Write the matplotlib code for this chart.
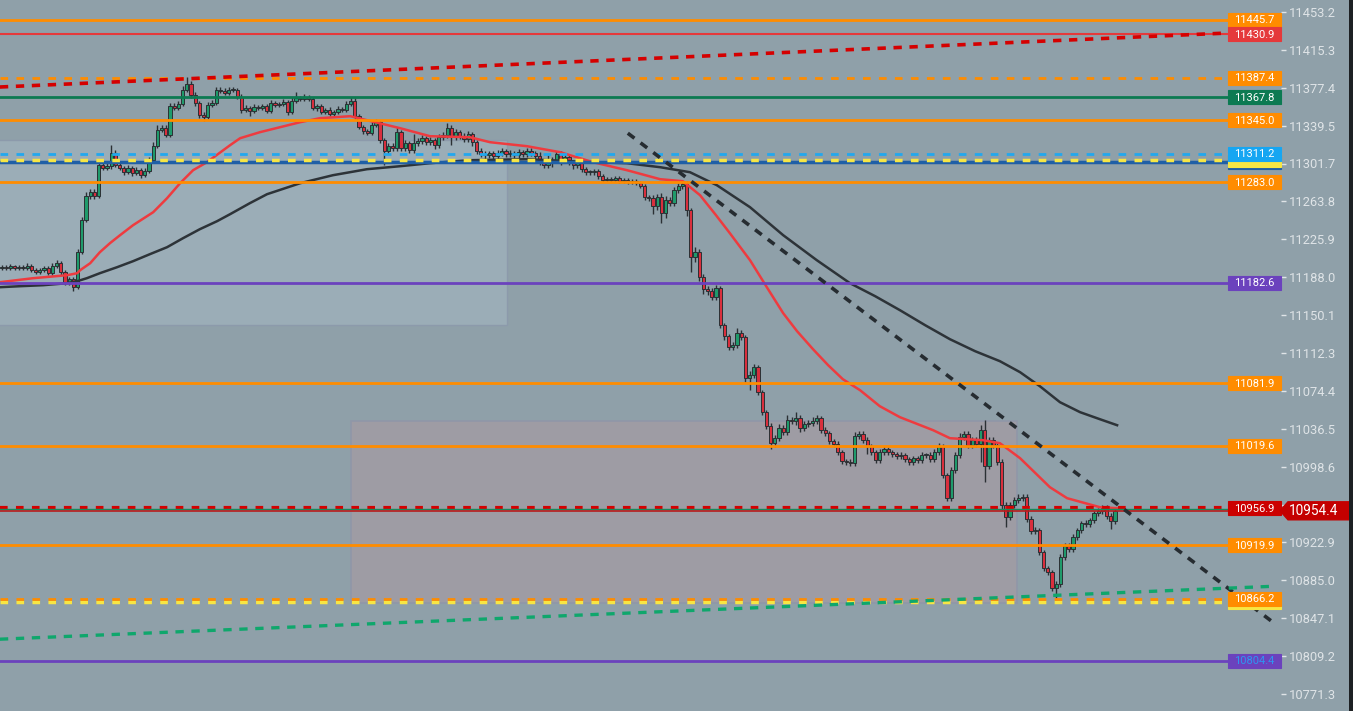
import numpy as np
import matplotlib.pyplot as plt
import matplotlib.transforms as mtransforms
from matplotlib.patches import Rectangle, Polygon

plt.rcParams['font.family'] = ['Roboto', 'DejaVu Sans']
plt.rcParams['lines.scale_dashes'] = False

# candle data (1 bar = one candle, open = previous close)
first_open = 11197
closes = [
    11198, 11197, 11199, 11197, 11198, 11197, 11199, 11195, 11193, 11195,
    11197, 11192, 11199, 11202, 11193, 11182, 11186, 11178, 11213, 11245,
    11269, 11273, 11269, 11300, 11297, 11299, 11312, 11300, 11297, 11293,
    11297, 11292, 11295, 11290, 11294, 11305, 11319, 11335, 11337, 11330,
    11359, 11357, 11361, 11375, 11381, 11370, 11362, 11350, 11348, 11360,
    11362, 11375, 11374, 11372, 11375, 11375, 11368, 11355, 11357, 11354,
    11358, 11357, 11359, 11354, 11362, 11360, 11361, 11363, 11353, 11364,
    11367, 11366, 11368, 11366, 11357, 11359, 11353, 11355, 11351, 11353,
    11356, 11355, 11361, 11364, 11349, 11338, 11334, 11332, 11340, 11343,
    11325, 11314, 11319, 11317, 11333, 11317, 11322, 11315, 11322, 11324,
    11327, 11323, 11325, 11320, 11328, 11330, 11337, 11328, 11333, 11329,
    11326, 11331, 11323, 11314, 11311, 11310, 11312, 11309, 11312, 11314,
    11311, 11312, 11310, 11313, 11311, 11314, 11312, 11309, 11303, 11300,
    11304, 11305, 11311, 11305, 11308, 11303, 11300, 11302, 11296, 11293,
    11293, 11294, 11289, 11285, 11286, 11285, 11287, 11284, 11285, 11283,
    11284, 11282, 11279, 11268, 11267, 11259, 11268, 11252, 11265, 11262,
    11275, 11279, 11281, 11255, 11208, 11213, 11188, 11176, 11174, 11168,
    11177, 11140, 11129, 11118, 11120, 11132, 11128, 11087, 11090, 11098,
    11073, 11053, 11039, 11022, 11027, 11037, 11033, 11045, 11044, 11047,
    11037, 11041, 11042, 11044, 11047, 11035, 11032, 11024, 11021, 11013,
    11004, 11003, 11002, 11029, 11031, 11025, 11019, 11013, 11005, 11013,
    11016, 11013, 11011, 11009, 11010, 11006, 11003, 11007, 11005, 11010,
    11010, 11006, 11013, 11019, 10990, 10967, 10995, 11010, 11028, 11031,
    11020, 11025, 11021, 11035, 10999, 11025, 11020, 11003, 10960, 10948,
    10960, 10965, 10967, 10968, 10946, 10934, 10935, 10913, 10897, 10893,
    10877, 10881, 10908, 10919, 10916, 10928, 10935, 10942, 10941, 10945,
    10952, 10954, 10957, 10949, 10944, 10954.4,
]
upper_wick = [
    2, 2, 2, 1, 2, 2, 3, 2, 2, 2,
    2, 2, 3, 3, 2, 2, 2, 2, 3, 3,
    4, 3, 3, 6, 3, 3, 8, 3, 3, 2,
    3, 2, 3, 2, 3, 3, 4, 5, 3, 3,
    3, 3, 3, 4, 7, 3, 3, 2, 3, 3,
    3, 3, 3, 3, 3, 3, 2, 3, 3, 2,
    3, 2, 2, 2, 3, 2, 2, 3, 2, 4,
    6, 2, 3, 2, 2, 2, 2, 2, 3, 2,
    3, 2, 3, 4, 3, 2, 2, 2, 3, 3,
    2, 2, 3, 3, 5, 2, 3, 2, 9, 3,
    3, 2, 3, 2, 3, 3, 5, 3, 3, 2,
    3, 3, 2, 2, 3, 3, 2, 2, 3, 3,
    2, 3, 2, 3, 2, 3, 3, 2, 4, 3,
    6, 3, 3, 3, 3, 2, 2, 3, 2, 2,
    2, 2, 2, 2, 2, 2, 2, 2, 2, 2,
    2, 2, 2, 2, 2, 3, 3, 4, 4, 3,
    3, 3, 3, 3, 2, 5, 3, 3, 3, 3,
    3, 2, 2, 2, 3, 5, 3, 2, 4, 3,
    2, 2, 2, 3, 3, 4, 3, 5, 3, 6,
    3, 3, 3, 4, 3, 2, 3, 2, 2, 3,
    2, 2, 3, 4, 3, 3, 3, 2, 2, 3,
    3, 2, 2, 2, 3, 2, 2, 2, 2, 3,
    2, 3, 3, 3, 2, 2, 3, 3, 4, 3,
    3, 3, 3, 5, 10, 3, 3, 2, 3, 3,
    3, 3, 4, 3, 3, 3, 3, 2, 2, 2,
    2, 3, 3, 3, 3, 3, 2, 2, 3, 2,
    2, 3, 3, 3, 3, 3,
]
lower_wick = [
    2, 2, 2, 2, 2, 2, 2, 2, 2, 2,
    2, 2, 2, 2, 3, 2, 2, 4, 2, 2,
    2, 3, 3, 2, 2, 2, 3, 2, 2, 3,
    2, 3, 2, 3, 2, 2, 2, 2, 2, 2,
    2, 2, 2, 2, 2, 3, 3, 3, 4, 2,
    2, 2, 2, 2, 2, 2, 2, 3, 2, 5,
    2, 2, 2, 2, 2, 2, 2, 2, 3, 2,
    2, 2, 2, 2, 2, 3, 2, 2, 2, 2,
    2, 2, 2, 2, 3, 2, 3, 2, 2, 2,
    3, 14, 3, 3, 3, 3, 3, 3, 3, 3,
    3, 3, 3, 4, 3, 3, 3, 8, 3, 3,
    3, 3, 4, 3, 3, 4, 3, 3, 3, 3,
    3, 3, 3, 3, 3, 3, 3, 3, 3, 3,
    3, 6, 3, 5, 3, 3, 4, 3, 3, 3,
    3, 3, 3, 2, 2, 2, 2, 2, 2, 2,
    2, 2, 2, 3, 3, 8, 4, 10, 5, 3,
    3, 3, 3, 6, 15, 5, 4, 5, 4, 3,
    3, 3, 4, 3, 3, 3, 3, 4, 12, 3,
    3, 3, 3, 6, 4, 3, 3, 3, 3, 4,
    4, 3, 3, 3, 3, 3, 3, 3, 3, 3,
    3, 3, 3, 3, 3, 3, 8, 3, 3, 3,
    3, 3, 3, 3, 3, 3, 3, 3, 3, 3,
    3, 3, 3, 3, 3, 3, 3, 3, 3, 3,
    3, 3, 3, 18, 16, 3, 3, 3, 5, 10,
    3, 3, 3, 3, 3, 3, 3, 3, 3, 3,
    3, 10, 3, 3, 3, 3, 3, 3, 3, 3,
    3, 3, 3, 3, 8, 3,
]

# moving averages (bar index, price)
ma_fast_x = [-0.5, 7.4, 15.5, 17.9, 18.6, 21, 23.3, 25.7, 28.1, 31.2, 36, 39.3, 42.4, 45.5,
             48.8, 54.3, 56.7, 61.4, 66.2, 71, 75.7, 82.9, 86.9, 94.8, 101.9, 111.4, 116.2,
             125, 132.9, 140.7, 148.8, 156.7, 162.1, 166.2, 170, 173.3, 178.1, 182.1, 186,
             189.3, 193.1, 196.7, 200.2, 204.3, 209, 213.8, 221.7, 225.7, 233.6, 237.6, 242.4,
             249.5, 253.6, 261.4, 265.5]
ma_fast_y = [11183, 11187, 11190, 11192, 11195, 11202, 11213, 11222, 11230, 11240, 11253, 11267,
             11282, 11295, 11303, 11320, 11327, 11333, 11338, 11343, 11347, 11349, 11345, 11337,
             11329, 11328, 11323, 11319, 11313, 11303, 11295, 11286, 11284, 11270, 11250, 11232,
             11205, 11178, 11152, 11134, 11116, 11100, 11086, 11075, 11059, 11048, 11035, 11027,
             11025, 11022, 11007, 10978, 10967, 10958, 10957]
ma_slow_x = [-0.5, 4.3, 9.8, 15.5, 17.9, 20.2, 23.3, 27.4, 31.2, 35.2, 39.3, 43.1, 47.1, 51.2,
             54.3, 59, 63.1, 71, 78.8, 86.9, 94.8, 101.9, 111.4, 125, 140.7, 148.8, 156.7, 163.8,
             170.2, 178.1, 186, 194, 201.9, 207.9, 213.8, 219.8, 225.7, 231.7, 237.6, 242.4,
             247.1, 251.9, 256.7, 261.4, 265.5]
ma_slow_y = [11178, 11179, 11180, 11182, 11184, 11187, 11192, 11198, 11204, 11211, 11218, 11227,
             11236, 11244, 11251, 11262, 11271, 11282, 11290, 11296, 11299, 11302, 11305, 11306,
             11303, 11302, 11298, 11293, 11280, 11258, 11230, 11205, 11182, 11169, 11155, 11140,
             11126, 11114, 11104, 11093, 11079, 11063, 11053, 11046, 11040]

# trend lines (bar index, price)
trend_red_x, trend_red_y = [-0.5, 291.9], [11378.2, 11432.2]
trend_black_x, trend_black_y = [149, 302.6], [11332, 10843]
trend_green_x, trend_green_y = [-0.5, 303.1], [10826, 10879]

# zones (start bar, end bar, low price, high price)
zone_upper = [-1, 120.2, 11140.2, 11325.2]
zone_lower = [83.1, 241.7, 10862.2, 11044.2]

# horizontal levels with their price tags
level_prices = [11445.7, 11430.9, 11387.4, 11367.8, 11345.0, 11303.5, 11305.2, 11311.2,
                11283.0, 11182.6, 11081.9, 11019.6, 10956.9, 10919.9, 10863.7, 10866.2, 10804.4]
level_tags = ['11445.7', '11430.9', '11387.4', '11367.8', '11345.0', '', '', '11311.2',
              '11283.0', '11182.6', '11081.9', '11019.6', '10956.9', '10919.9', '', '10866.2',
              '10804.4']
last_price = 10954.4
tick_values = [11453.2, 11415.3, 11377.4, 11339.5, 11301.7, 11263.8, 11225.9, 11188.0, 11150.1,
               11112.3, 11074.4, 11036.5, 10998.6, 10960.7, 10922.9, 10885.0, 10847.1, 10809.2,
               10771.3]

ORANGE = '#ff8c00'
level_styles = [
    (ORANGE, 'solid', 2.0, ORANGE, 'white'),
    ('#e5393b', 'solid', 1.5, '#e5393b', 'white'),
    (ORANGE, 'dashed', 2.0, ORANGE, 'white'),
    ('#0c7a52', 'solid', 2.0, '#0c7a52', 'white'),
    (ORANGE, 'solid', 2.0, ORANGE, 'white'),
    ('#1f5fa6', 'solid', 2.5, '#1f5fa6', 'white'),
    ('#f7e644', 'dashed', 2.5, '#f7e644', 'white'),
    ('#22a8ee', 'dashed', 2.0, '#16a6f2', 'white'),
    (ORANGE, 'solid', 2.0, ORANGE, 'white'),
    ('#6b42bd', 'solid', 2.0, '#6b42bd', 'white'),
    (ORANGE, 'solid', 2.0, ORANGE, 'white'),
    (ORANGE, 'solid', 2.0, ORANGE, 'white'),
    ('#d50000', 'dashed', 3.0, '#cc0000', 'white'),
    (ORANGE, 'solid', 2.0, ORANGE, 'white'),
    ('#f7e644', 'dashed', 2.5, '#f7e644', 'white'),
    (ORANGE, 'dashed', 2.0, ORANGE, 'white'),
    ('#6b42bd', 'solid', 2.0, '#6b42bd', '#2f95f0'),
]

BG = '#8fa0a9'
W, H = 1353, 711
PLOT_W = 1281

fig = plt.figure(figsize=(W / 100, H / 100), dpi=100, facecolor=BG)
ax = fig.add_axes([0, 0, PLOT_W / W, 1])
ax.set_facecolor(BG)
ax.set_xlim(-2 / 4.2, (PLOT_W - 2) / 4.2)
ax.set_ylim(11465.2 - H, 11465.2)
for s in ax.spines.values():
    s.set_visible(False)
ax.set_xticks([])
ax.yaxis.tick_right()
ax.set_yticks(tick_values)
# the tick under the last-price tag is hidden by it, as in the source chart
ax.set_yticklabels(['' if abs(v - last_price) < 9 else f'{v:.1f}' for v in tick_values])
ax.tick_params(axis='y', length=3.6, width=1, pad=1.8, colors='#dfe4e7', labelsize=9.3)

bt = mtransforms.blended_transform_factory(ax.transAxes, ax.transData)

# zones
ax.add_patch(Rectangle((zone_upper[0], zone_upper[2]), zone_upper[1] - zone_upper[0],
                       zone_upper[3] - zone_upper[2], facecolor='#9badb7',
                       edgecolor='#8c9aab', lw=1, zorder=1))
ax.add_patch(Rectangle((zone_lower[0], zone_lower[2]), zone_lower[1] - zone_lower[0],
                       zone_lower[3] - zone_lower[2], facecolor='#9e9ca4',
                       edgecolor='#9097a8', lw=1.2, zorder=1))

# candles
closes = np.array(closes, dtype=float)
opens = np.concatenate([[first_open], closes[:-1]])
idx = np.arange(len(closes))
top = np.maximum(opens, closes)
bot = np.minimum(opens, closes)
highs = top + np.array(upper_wick)
lows = bot - np.array(lower_wick)
up = closes >= opens
ax.vlines(idx, lows, highs, color='#2b3034', lw=1.0, zorder=3)
heights = np.maximum(top - bot, 0.8)
ax.bar(idx[up], heights[up], bottom=bot[up], width=0.72, color='#1f9a6b',
       edgecolor='#2b3034', linewidth=0.7, zorder=4)
ax.bar(idx[~up], heights[~up], bottom=bot[~up], width=0.72, color='#d92f3d',
       edgecolor='#2b3034', linewidth=0.7, zorder=4)

# moving averages
ax.plot(ma_slow_x, ma_slow_y, color='#2d3338', lw=1.8, zorder=5, solid_joinstyle='round')
ax.plot(ma_fast_x, ma_fast_y, color='#ee3b3f', lw=1.8, zorder=5, solid_joinstyle='round')

# horizontal levels
x_tag = 1228 / PLOT_W
for p, tag, (lc, ls, lw, bc, tc) in zip(level_prices, level_tags, level_styles):
    kw = dict(color=lc, lw=lw, zorder=6)
    if ls == 'dashed':
        kw['dashes'] = (5.5, 6)
    ax.plot([0, x_tag], [p, p], transform=bt, **kw)
    ax.add_patch(Rectangle((x_tag, p - 7), 53 / PLOT_W, 14, transform=bt,
                           facecolor=bc, edgecolor=bc, lw=0.8, zorder=9, clip_on=False))
    if tag:
        ax.text(1254.5 / PLOT_W, p - 0.3, tag, transform=bt, ha='center', va='center',
                fontsize=8, color=tc, zorder=10)

# current price lines
ax.plot([0, 1], [last_price + 1.5, last_price + 1.5], transform=bt, color='#178a5c', lw=1, zorder=6)
ax.plot([0, 1], [last_price, last_price], transform=bt, color='#b71c1c', lw=1.2, zorder=6)

# trend lines
ax.plot(trend_red_x, trend_red_y, color='#d50000', lw=2.6, dashes=(6, 5.5), zorder=7)
ax.plot(trend_black_x, trend_black_y, color='#262c31', lw=2.6, dashes=(6, 5.5), zorder=7)
ax.plot(trend_green_x, trend_green_y, color='#0fa76c', lw=2.4, dashes=(6, 5.5), zorder=7)

# last price tag
fx = lambda px: px / PLOT_W
tag_poly = Polygon([(fx(1280), last_price), (fx(1288), last_price + 9), (fx(1352), last_price + 9),
                    (fx(1352), last_price - 9), (fx(1288), last_price - 9)],
                   closed=True, transform=bt, facecolor='#c40000', edgecolor='#c40000',
                   zorder=11, clip_on=False)
ax.add_patch(tag_poly)
ax.text(fx(1314), last_price - 0.5, f'{last_price:.1f}', transform=bt, ha='center', va='center',
        fontsize=9.8, color='white', zorder=12)

# right-edge dark strip
fig.add_artist(Rectangle((1349 / W, 0), 4 / W, 1, transform=fig.transFigure,
                         facecolor='#1d2023', edgecolor='none', zorder=20))

fig.savefig('out.png', dpi=100, facecolor=BG)
